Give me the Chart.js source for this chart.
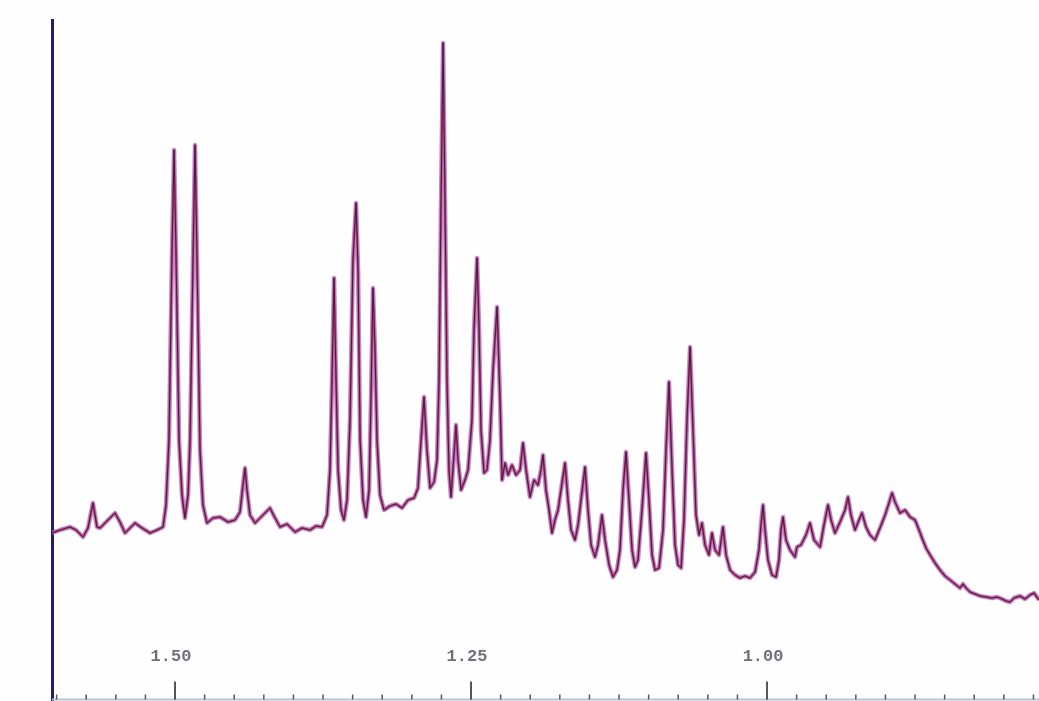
<!DOCTYPE html>
<html>
<head>
<meta charset="utf-8">
<script src="https://cdn.jsdelivr.net/npm/chart.js@4.4.1/dist/chart.umd.min.js"></script>
<style>
  html, body { margin: 0; padding: 0; background: #fefefe; }
  #wrap { width: 1039px; height: 701px; position: relative; }
</style>
</head>
<body>
<div id="wrap"><canvas id="spectrum"></canvas></div>
<script>
// chemical shift (ppm) left to right
const shifts = [
  1.6039, 1.5971, 1.5887, 1.5836, 1.5777, 1.5735, 1.5693, 1.5659, 1.5633, 1.5566,
  1.5507, 1.5465, 1.5422, 1.5338, 1.5279, 1.5211, 1.5152, 1.5101, 1.5076, 1.5051,
  1.5025, 1.5008, 1.4992, 1.4966, 1.4941, 1.4916, 1.4890, 1.4873, 1.4848, 1.4831,
  1.4814, 1.4789, 1.4764, 1.4730, 1.4679, 1.4620, 1.4552, 1.4493, 1.4451, 1.4426,
  1.4409, 1.4392, 1.4367, 1.4324, 1.4282, 1.4240, 1.4198, 1.4164, 1.4113, 1.4054,
  1.3986, 1.3927, 1.3860, 1.3809, 1.3758, 1.3716, 1.3691, 1.3674, 1.3657, 1.3640,
  1.3623, 1.3598, 1.3573, 1.3547, 1.3522, 1.3497, 1.3471, 1.3454, 1.3437, 1.3412,
  1.3387, 1.3361, 1.3345, 1.3328, 1.3311, 1.3294, 1.3269, 1.3235, 1.3184, 1.3133,
  1.3083, 1.3032, 1.2981, 1.2948, 1.2922, 1.2897, 1.2872, 1.2846, 1.2812, 1.2787,
  1.2770, 1.2753, 1.2736, 1.2720, 1.2703, 1.2686, 1.2669, 1.2644, 1.2627, 1.2610,
  1.2584, 1.2551, 1.2525, 1.2492, 1.2475, 1.2449, 1.2432, 1.2416, 1.2390, 1.2365,
  1.2340, 1.2314, 1.2280, 1.2255, 1.2238, 1.2213, 1.2187, 1.2154, 1.2120, 1.2086,
  1.2061, 1.2035, 1.2002, 1.1968, 1.1934, 1.1909, 1.1892, 1.1867, 1.1841, 1.1816,
  1.1791, 1.1765, 1.1740, 1.1706, 1.1681, 1.1655, 1.1622, 1.1596, 1.1571, 1.1537,
  1.1512, 1.1486, 1.1453, 1.1427, 1.1394, 1.1368, 1.1334, 1.1301, 1.1267, 1.1242,
  1.1216, 1.1191, 1.1166, 1.1140, 1.1115, 1.1090, 1.1056, 1.1022, 1.0997, 1.0971,
  1.0946, 1.0912, 1.0878, 1.0853, 1.0828, 1.0802, 1.0777, 1.0752, 1.0726, 1.0701,
  1.0676, 1.0650, 1.0625, 1.0600, 1.0574, 1.0549, 1.0524, 1.0490, 1.0465, 1.0439,
  1.0405, 1.0372, 1.0346, 1.0312, 1.0270, 1.0228, 1.0186, 1.0144, 1.0101, 1.0068,
  1.0051, 1.0034, 1.0017, 0.9992, 0.9958, 0.9924, 0.9899, 0.9882, 0.9865, 0.9840,
  0.9806, 0.9764, 0.9747, 0.9713, 0.9671, 0.9637, 0.9603, 0.9552, 0.9519, 0.9485,
  0.9459, 0.9426, 0.9383, 0.9341, 0.9316, 0.9291, 0.9257, 0.9223, 0.9198, 0.9164,
  0.9130, 0.9088, 0.9046, 0.9003, 0.8970, 0.8944, 0.8919, 0.8877, 0.8834, 0.8792,
  0.8750, 0.8716, 0.8691, 0.8657, 0.8623, 0.8581, 0.8539, 0.8497, 0.8454, 0.8412,
  0.8370, 0.8345, 0.8319, 0.8285, 0.8243, 0.8201, 0.8150, 0.8100, 0.8057, 0.8015,
  0.7981, 0.7948, 0.7914, 0.7863, 0.7821, 0.7779, 0.7745, 0.7703
];

// signal intensity (arbitrary units, 0 = right-hand baseline)
const intensity = [
   67,  70,  73,  70,  63,  72,  97,  73,  72,  80,
   87,  78,  67,  77,  72,  67,  70,  73,  95, 160,
  350, 450, 350, 160, 105,  82, 105, 160, 340, 455,
  340, 150,  95,  77,  82,  83,  78,  80,  88, 115,
  132, 110,  85,  77,  82,  87,  92,  84,  73,  76,
   68,  72,  70,  74,  73,  85, 130, 220, 322, 220,
  130,  90,  80, 100, 180, 340, 397, 330, 160, 100,
   83, 110, 200, 312, 250, 160, 105,  90,  94,  96,
   92, 100, 102, 112, 160, 203, 150, 112, 118, 140,
  220, 400, 557, 400, 220, 130, 103, 145, 175, 140,
  110, 120, 130, 180, 270, 342, 270, 170, 127, 130,
  160, 230, 293, 200, 120, 137, 125, 135, 125, 130,
  157, 130, 103, 120, 115, 130, 145, 110,  90,  67,
   80,  90, 110, 137, 100,  70,  60,  75, 100, 133,
   90,  55,  43,  55,  85,  60,  35,  23,  30,  50,
  110, 148, 100,  50,  33,  40,  90, 147, 100,  45,
   30,  32,  70, 150, 218, 130,  55,  35,  32,  80,
  180, 253, 170,  85,  65,  77,  55,  45,  67,  50,
   45,  73,  45,  30,  25,  22,  24,  22,  28,  50,
   75,  95,  70,  40,  25,  23,  40,  70,  83,  60,
   50,  43,  53,  55,  65,  77,  60,  53,  75,  95,
   80,  67,  78,  90, 103,  85,  70,  80,  87,  73,
   65,  60,  72,  85,  97, 107,  98,  87,  90,  83,
   80,  70,  62,  52,  45,  37,  30,  24,  20,  16,
   12,  16,  12,   8,   6,   4,   3,   2,   3,   1,
   -1,  -2,   2,   4,   1,   5,   7,   0
];

// axis: major labels every 0.25 ppm, minor ticks every 0.025 ppm
const majorTicks = [1.50, 1.25, 1.00];
const tickLabels = ['1.50', '1.25', '1.00'];
const minorStep = 0.025;
const shiftRange = [0.7703, 1.6039];

const points = shifts.map((s, i) => ({ x: s, y: intensity[i] }));

// draws the ppm ruler along the bottom edge (ticks point up, labels above)
const ppmRuler = {
  id: 'ppmRuler',
  afterDraw(chart) {
    const ctx = chart.ctx;
    const xs = chart.scales.x;
    const area = chart.chartArea;
    const base = chart.height - 1.5;
    ctx.save();
    ctx.strokeStyle = '#bcc2da';
    ctx.lineWidth = 2;
    ctx.beginPath();
    ctx.moveTo(area.left, base);
    ctx.lineTo(area.right, base);
    ctx.stroke();

    ctx.strokeStyle = '#55555f';
    ctx.lineWidth = 1.5;
    for (let v = 0.775; v <= shiftRange[1]; v += minorStep) {
      const px = xs.getPixelForValue(v);
      ctx.beginPath();
      ctx.moveTo(px, base - 5);
      ctx.lineTo(px, base);
      ctx.stroke();
    }
    ctx.lineWidth = 2;
    ctx.fillStyle = '#707078';
    ctx.font = 'bold 17px "Liberation Mono", "DejaVu Sans Mono", monospace';
    ctx.textAlign = 'center';
    ctx.textBaseline = 'middle';
    majorTicks.forEach((v, i) => {
      const px = xs.getPixelForValue(v);
      ctx.beginPath();
      ctx.moveTo(px, base - 18);
      ctx.lineTo(px, base);
      ctx.stroke();
      ctx.fillText(tickLabels[i], px - 4, 657);
    });
    ctx.restore();
  }
};

const ctx = document.getElementById('spectrum').getContext('2d');
new Chart(ctx, {
  type: 'line',
  data: {
    datasets: [
      {
        label: 'core',
        data: points,
        borderColor: 'rgba(60, 20, 56, 0.9)',
        borderWidth: 1,
        order: 1
      },
      {
        label: 'spectrum',
        data: points,
        borderColor: 'rgba(180, 40, 80, 0.7)',
        borderWidth: 2.2,
        order: 2
      },
      {
        label: 'overlay',
        data: points,
        borderColor: 'rgba(176, 110, 195, 0.8)',
        borderWidth: 4.5,
        order: 3
      }
    ]
  },
  options: {
    responsive: true,
    maintainAspectRatio: false,
    animation: false,
    layout: { padding: { left: 52, right: 0, top: 20, bottom: 0 } },
    elements: {
      line: { tension: 0, fill: false, borderJoinStyle: 'round' },
      point: { radius: 0 }
    },
    scales: {
      x: {
        type: 'linear',
        reverse: true,
        min: shiftRange[0],
        max: shiftRange[1],
        display: false
      },
      y: {
        min: -101,
        max: 580,
        display: true,
        ticks: { display: false },
        grid: { display: false, drawTicks: false },
        border: { display: true, color: '#241a6e', width: 3 }
      }
    },
    plugins: {
      legend: { display: false },
      tooltip: { enabled: false }
    }
  },
  plugins: [ppmRuler]
});
</script>
</body>
</html>
